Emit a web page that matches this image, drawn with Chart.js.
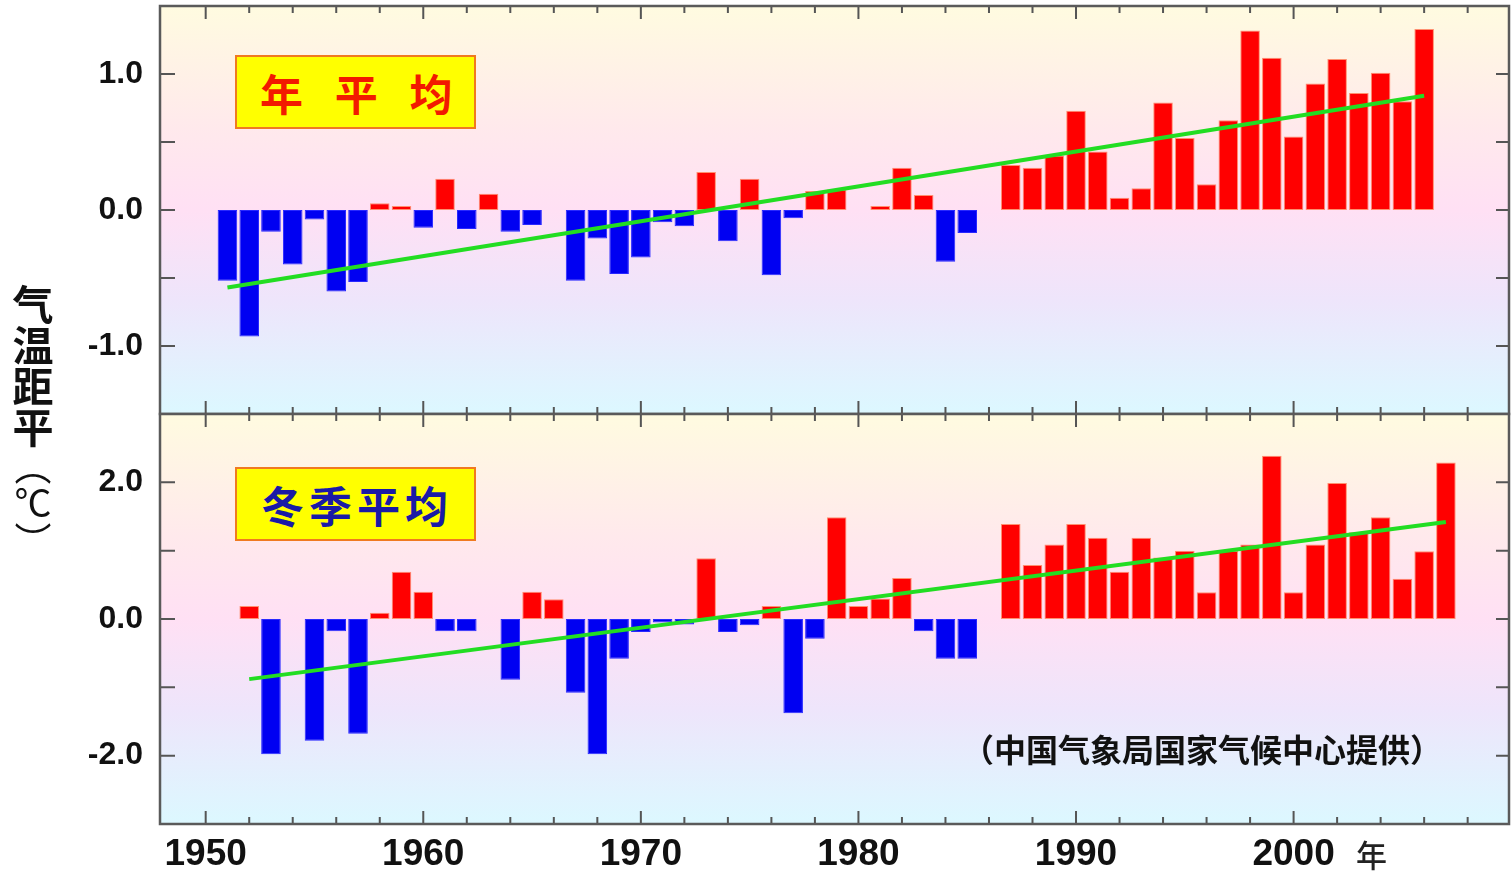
<!DOCTYPE html>
<html lang="zh">
<head>
<meta charset="utf-8">
<title>气温距平</title>
<script src="https://cdn.jsdelivr.net/npm/chart.js@4.4.1/dist/chart.umd.min.js"></script>
<style>
  html, body { margin: 0; padding: 0; background: #fff; }
  #page { position: relative; width: 1511px; height: 873px; overflow: hidden; }
  canvas { position: absolute; left: 0; }
  #cTop { top: 0; }
  #cBot { top: 410px; }
  .tag {
    position: absolute; left: 235px; width: 237px; height: 70px;
    background: #ffff00; border: 2px solid #f07a20;
    font-family: "Noto Sans CJK SC", sans-serif; font-weight: 700;
    font-size: 43px; line-height: 70px; white-space: pre;
  }
  #tagYear { top: 55px; color: #f21a00; text-indent: 23px; letter-spacing: 11px; }
  #tagWinter { top: 467px; color: #1a1aa6; text-indent: 24px; letter-spacing: 5px; }
  #ytitle {
    position: absolute; left: 10px; top: 284px;
    writing-mode: vertical-rl; text-orientation: upright;
    font-family: "Noto Sans CJK SC", sans-serif; font-size: 41px; font-weight: 700;
    color: #111; line-height: 46px;
  }
  #ytitle span { font-weight: 400; font-size: 37px; }
  #source {
    position: absolute; left: 962px; top: 725px;
    font-family: "Noto Sans CJK SC", sans-serif; font-size: 32px; font-weight: 700;
    color: #111; white-space: nowrap;
  }
  #unit {
    position: absolute; left: 1356px; top: 831px;
    font-family: "Noto Sans CJK SC", sans-serif; font-size: 31px; font-weight: 500; color: #222;
  }
</style>
</head>
<body>
<div id="page">
  <canvas id="cTop" width="1511" height="420"></canvas>
  <canvas id="cBot" width="1511" height="463"></canvas>
  <div class="tag" id="tagYear">年 平 均</div>
  <div class="tag" id="tagWinter">冬季平均</div>
  <div id="ytitle">气温距平<span>（℃）</span></div>
  <div id="source">（中国气象局国家气候中心提供）</div>
  <div id="unit">年</div>
</div>
<script>
// 年平均 气温距平
const annualYears = [1951, 1952, 1953, 1954, 1955, 1956, 1957, 1958, 1959, 1960,
  1961, 1962, 1963, 1964, 1965, 1966, 1967, 1968, 1969, 1970,
  1971, 1972, 1973, 1974, 1975, 1976, 1977, 1978, 1979, 1980,
  1981, 1982, 1983, 1984, 1985, 1986, 1987, 1988, 1989, 1990,
  1991, 1992, 1993, 1994, 1995, 1996, 1997, 1998, 1999, 2000,
  2001, 2002, 2003, 2004, 2005, 2006]
const annualAnom = [-0.52, -0.93, -0.16, -0.40, -0.07, -0.60, -0.53, 0.05, 0.03, -0.13,
  0.23, -0.14, 0.12, -0.16, -0.11, 0, -0.52, -0.21, -0.47, -0.35,
  -0.09, -0.12, 0.28, -0.23, 0.23, -0.48, -0.06, 0.14, 0.15, 0,
  0.03, 0.31, 0.11, -0.38, -0.17, 0, 0.33, 0.31, 0.40, 0.73,
  0.43, 0.09, 0.16, 0.79, 0.53, 0.19, 0.66, 1.32, 1.12, 0.54,
  0.93, 1.11, 0.86, 1.01, 0.80, 1.33]
const annualTrendYears = [1951, 2006]
const annualTrendVals = [-0.57, 0.84]

// 冬季平均 气温距平
const winterYears = [1952, 1953, 1954, 1955, 1956, 1957, 1958, 1959, 1960,
  1961, 1962, 1963, 1964, 1965, 1966, 1967, 1968, 1969, 1970,
  1971, 1972, 1973, 1974, 1975, 1976, 1977, 1978, 1979, 1980,
  1981, 1982, 1983, 1984, 1985, 1986, 1987, 1988, 1989, 1990,
  1991, 1992, 1993, 1994, 1995, 1996, 1997, 1998, 1999, 2000,
  2001, 2002, 2003, 2004, 2005, 2006, 2007]
const winterAnom = [0.19, -1.98, 0, -1.78, -0.18, -1.68, 0.09, 0.69, 0.40,
  -0.18, -0.18, 0, -0.89, 0.40, 0.29, -1.08, -1.98, -0.58, -0.19,
  -0.05, -0.08, 0.89, -0.19, -0.09, 0.19, -1.38, -0.29, 1.49, 0.19,
  0.30, 0.60, -0.18, -0.58, -0.58, 0, 1.39, 0.79, 1.09, 1.39,
  1.19, 0.69, 1.19, 0.90, 1.00, 0.39, 1.00, 1.09, 2.39, 0.39,
  1.09, 1.99, 1.27, 1.49, 0.59, 0.99, 2.29]
const winterTrendYears = [1952, 2007]
const winterTrendVals = [-0.88, 1.42]

// 刻度
const xLabelYears = [1950, 1960, 1970, 1980, 1990, 2000]
const xMarkYears = [1950, 1952, 1954, 1956, 1958, 1960, 1962, 1964, 1966, 1968,
  1970, 1972, 1974, 1976, 1978, 1980, 1982, 1984, 1986, 1988,
  1990, 1992, 1994, 1996, 1998, 2000, 2002, 2004, 2006, 2008]
const annualLabels = [-1.0, 0.0, 1.0]
const annualMarks = [-1.0, -0.5, 0.0, 0.5, 1.0]
const winterLabels = [-2.0, 0.0, 2.0]
const winterMarks = [-2.0, -1.0, 0.0, 1.0, 2.0]

const tickFont = "'Liberation Sans', Arial, sans-serif"

// 背景渐变、边框和向内的刻度线
const panelDeco = {
    id: 'panelDeco',
    beforeDraw(chart) {
        const { ctx, chartArea: a } = chart
        const g = ctx.createLinearGradient(0, a.top, 0, a.bottom)
        g.addColorStop(0, '#fffbe0')
        g.addColorStop(0.3, '#ffe9ec')
        g.addColorStop(0.5, '#ffe0f4')
        g.addColorStop(0.72, '#eee5fb')
        g.addColorStop(1, '#dcf8ff')
        ctx.save()
        ctx.fillStyle = g
        ctx.fillRect(a.left, a.top, a.right - a.left, a.bottom - a.top)
        ctx.restore()
    },
    afterDraw(chart, args, opts) {
        const { ctx, chartArea: a } = chart
        const x = chart.scales.x
        const y = chart.scales.y
        ctx.save()
        ctx.strokeStyle = '#555'
        ctx.lineWidth = 2
        ctx.beginPath()
        xMarkYears.forEach(yr => {
            const px = x.getPixelForValue(yr)
            const len = yr % 10 === 0 ? 13 : 7
            ctx.moveTo(px, a.top)
            ctx.lineTo(px, a.top + len)
            ctx.moveTo(px, a.bottom)
            ctx.lineTo(px, a.bottom - len)
        })
        opts.marks.forEach(v => {
            const py = y.getPixelForValue(v)
            ctx.moveTo(a.left, py)
            ctx.lineTo(a.left + 15, py)
            ctx.moveTo(a.right, py)
            ctx.lineTo(a.right - 13, py)
        })
        ctx.stroke()
        ctx.strokeStyle = '#5a5a5a'
        ctx.lineWidth = 2.5
        ctx.strokeRect(a.left, a.top, a.right - a.left, a.bottom - a.top)
        ctx.restore()
    }
}

function barColor(ctx) {
    const v = ctx.parsed ? ctx.parsed.y : 0
    if (v > 0) return '#ff0000'
    if (v < 0) return '#0000f2'
    return 'rgba(140,140,140,0.8)'
}

function barEdge(ctx) {
    const v = ctx.parsed ? ctx.parsed.y : 0
    if (v > 0) return '#ff9070'
    if (v < 0) return '#2828ff'
    return 'rgba(140,140,140,0.8)'
}

function makePanel(id, years, vals, trendYears, trendVals, yMin, yMax, labels, marks, showX, padding) {
    const bars = years.map((yr, i) => ({ x: yr, y: vals[i] }))
    const trend = trendYears.map((yr, i) => ({ x: yr, y: trendVals[i] }))

    return new Chart(document.getElementById(id), {
        type: 'bar',
        data: {
            datasets: [
                {
                    type: 'line',
                    data: trend,
                    borderColor: '#22dd22',
                    borderWidth: 4,
                    pointRadius: 0,
                    fill: false,
                    order: 0
                },
                {
                    type: 'bar',
                    data: bars,
                    backgroundColor: barColor,
                    borderColor: barEdge,
                    borderWidth: 1,
                    borderSkipped: false,
                    barPercentage: 0.9,
                    categoryPercentage: 1,
                    order: 1
                }
            ]
        },
        options: {
            responsive: false,
            animation: false,
            layout: { padding: padding, autoPadding: false },
            plugins: {
                legend: { display: false },
                tooltip: { enabled: false },
                panelDeco: { marks: marks }
            },
            scales: {
                x: {
                    type: 'linear',
                    min: 1947.9,
                    max: 2009.9,
                    offset: false,
                    display: showX,
                    grid: { display: false, drawTicks: false },
                    border: { display: false },
                    afterBuildTicks: s => { s.ticks = xLabelYears.map(v => ({ value: v })) },
                    afterFit: s => {
                        s.height = showX ? 49 : 0
                        s.paddingLeft = 0
                        s.paddingRight = 0
                    },
                    ticks: {
                        padding: 9,
                        color: '#111',
                        autoSkip: false,
                        maxRotation: 0,
                        font: { family: tickFont, weight: 'bold', size: 37 },
                        callback: v => String(v)
                    }
                },
                y: {
                    min: yMin,
                    max: yMax,
                    grid: { display: false, drawTicks: false },
                    border: { display: false },
                    afterBuildTicks: s => { s.ticks = labels.map(v => ({ value: v })) },
                    afterFit: s => {
                        s.width = 160
                        s.paddingTop = 0
                        s.paddingBottom = 0
                    },
                    ticks: {
                        padding: 17,
                        color: '#111',
                        font: { family: tickFont, weight: 'bold', size: 32 },
                        callback: v => v.toFixed(1)
                    }
                }
            }
        },
        plugins: [panelDeco]
    })
}

makePanel('cTop', annualYears, annualAnom, annualTrendYears, annualTrendVals,
    -1.5, 1.5, annualLabels, annualMarks, false, { top: 6, right: 2, bottom: 6, left: 0 })
makePanel('cBot', winterYears, winterAnom, winterTrendYears, winterTrendVals,
    -3, 3, winterLabels, winterMarks, true, { top: 4, right: 2, bottom: 0, left: 0 })
</script>
</body>
</html>
